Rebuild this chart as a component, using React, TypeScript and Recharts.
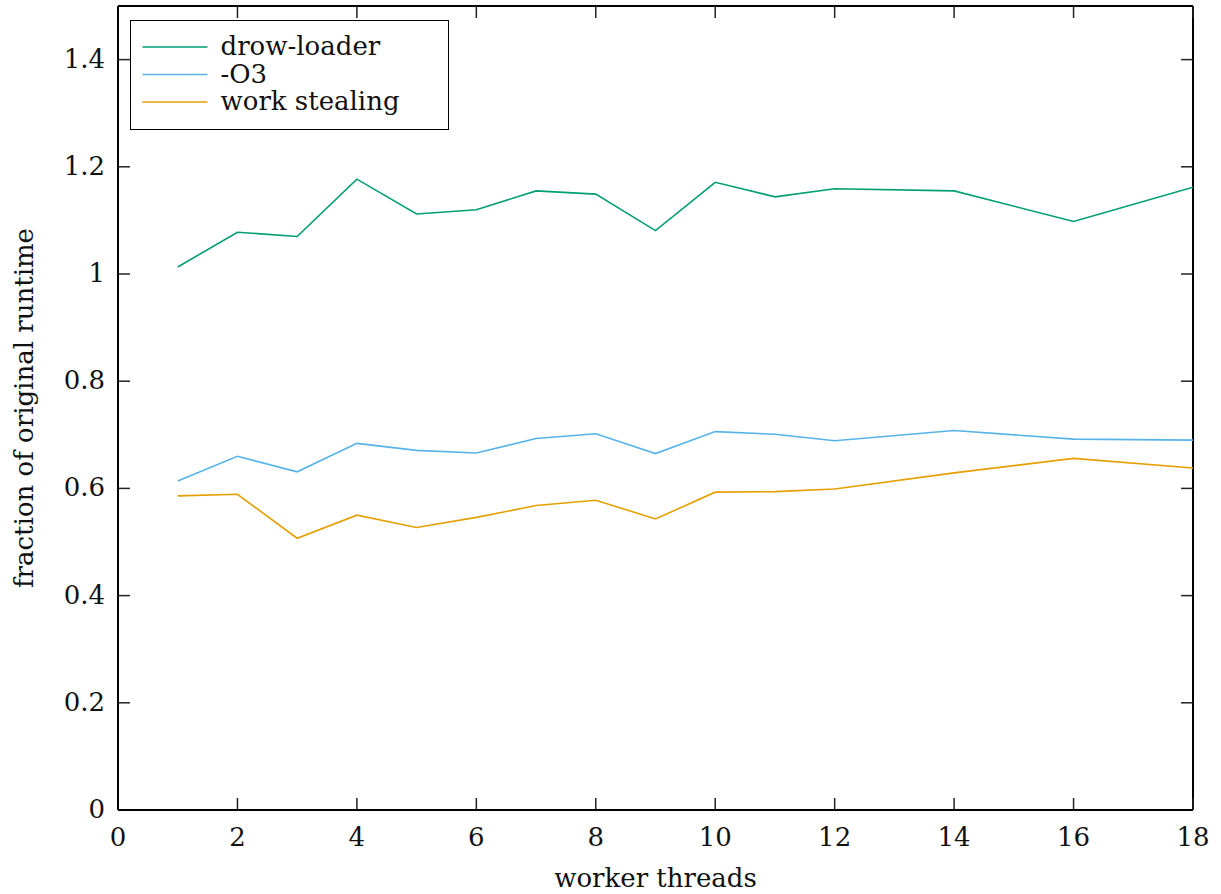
import React from "react";
import { LineChart, Line, XAxis, YAxis, Legend, ReferenceLine } from "recharts";

const threads = [1, 2, 3, 4, 5, 6, 7, 8, 9, 10, 11, 12, 14, 16, 18];
const drowLoader = [1.013, 1.078, 1.07, 1.177, 1.112, 1.12, 1.155, 1.149, 1.081, 1.171, 1.144, 1.159, 1.155, 1.098, 1.162];
const o3 = [0.614, 0.66, 0.631, 0.684, 0.671, 0.666, 0.693, 0.702, 0.665, 0.706, 0.701, 0.689, 0.708, 0.692, 0.69];
const workStealing = [0.586, 0.589, 0.507, 0.55, 0.527, 0.546, 0.568, 0.578, 0.543, 0.593, 0.594, 0.599, 0.629, 0.656, 0.638];

const xTicks = [0, 2, 4, 6, 8, 10, 12, 14, 16, 18];
const yTicks = [0, 0.2, 0.4, 0.6, 0.8, 1, 1.2, 1.4];
const X_MAX = 18;
const Y_MAX = 1.5;

const series = [
  { key: "drow", name: "drow-loader", color: "#009E73" },
  { key: "o3", name: "-O3", color: "#56B4E9" },
  { key: "ws", name: "work stealing", color: "#E69F00" },
];

const data = threads.map((t, i) => ({
  threads: t,
  drow: drowLoader[i],
  o3: o3[i],
  ws: workStealing[i],
}));

const FONT = "'DejaVu Serif', serif";
// inward tick length (~12px) expressed in axis units
const X_TICK = 0.2;
const Y_TICK = 0.0224;

const BottomTick = (p: any) => (
  <text x={p.x} y={p.y + 23} textAnchor="middle" fontFamily={FONT} fontSize={26} fill="#111">
    {p.payload.value}
  </text>
);

const LeftTick = (p: any) => (
  <text x={p.x} y={p.y + 8} textAnchor="end" fontFamily={FONT} fontSize={26} fill="#111">
    {String(p.payload.value)}
  </text>
);

const renderLegend = () => (
  <div
    style={{
      boxSizing: "border-box",
      width: 319,
      height: 110,
      border: "1.5px solid #000",
      background: "#fff",
      fontFamily: FONT,
      fontSize: 26,
      color: "#111",
      position: "relative",
    }}
  >
    <svg width={80} height={105} style={{ position: "absolute", left: 0, top: 0 }}>
      {series.map((s, i) => (
        <line key={s.key} x1={11.5} x2={76.5} y1={26 + i * 27.5} y2={26 + i * 27.5} stroke={s.color} strokeWidth={1.6} />
      ))}
    </svg>
    {series.map((s, i) => (
      <div
        key={s.key}
        style={{ position: "absolute", left: 89.5, top: 11 + i * 27.5, lineHeight: "28px", whiteSpace: "nowrap" }}
      >
        {s.name}
      </div>
    ))}
  </div>
);

export default function App() {
  return (
    <div style={{ position: "absolute", left: 0, top: 0 }}>
      <LineChart width={1221} height={894} data={data} margin={{ top: 6, right: 28, bottom: 24, left: 8 }}>
        <XAxis
          dataKey="threads"
          type="number"
          domain={[0, X_MAX]}
          allowDataOverflow
          ticks={xTicks}
          interval={0}
          height={60}
          tickSize={0}
          tickMargin={13}
          tickLine={false}
          axisLine={{ stroke: "#000", strokeWidth: 2 }}
          tick={BottomTick}
          label={{
            content: (p: any) => (
              <text
                x={p.viewBox.x + p.viewBox.width / 2}
                y={p.viewBox.y + 77}
                textAnchor="middle"
                fontFamily={FONT}
                fontSize={26}
                fill="#111"
              >
                worker threads
              </text>
            ),
          }}
        />
        <YAxis
          type="number"
          domain={[0, Y_MAX]}
          allowDataOverflow
          ticks={yTicks}
          interval={0}
          width={110}
          tickSize={0}
          tickMargin={13}
          tickLine={false}
          axisLine={{ stroke: "#000", strokeWidth: 2 }}
          tick={LeftTick}
          label={{
            content: (p: any) => {
              const cx = p.viewBox.x + 25;
              const cy = p.viewBox.y + p.viewBox.height / 2;
              return (
                <text
                  x={cx}
                  y={cy}
                  transform={`rotate(-90, ${cx}, ${cy})`}
                  textAnchor="middle"
                  fontFamily={FONT}
                  fontSize={26}
                  fill="#111"
                >
                  fraction of original runtime
                </text>
              );
            },
          }}
        />
        {/* frame: top and right edges */}
        <ReferenceLine y={Y_MAX} stroke="#000" strokeWidth={2} />
        <ReferenceLine x={X_MAX} stroke="#000" strokeWidth={2} />
        {/* inward ticks on all four sides */}
        {xTicks.map((t) => (
          <ReferenceLine key={`xb${t}`} segment={[{ x: t, y: 0 }, { x: t, y: Y_TICK }]} stroke="#222" strokeWidth={1.5} />
        ))}
        {xTicks.map((t) => (
          <ReferenceLine key={`xt${t}`} segment={[{ x: t, y: Y_MAX }, { x: t, y: Y_MAX - Y_TICK }]} stroke="#222" strokeWidth={1.5} />
        ))}
        {yTicks.map((v) => (
          <ReferenceLine key={`yl${v}`} segment={[{ x: 0, y: v }, { x: X_TICK, y: v }]} stroke="#222" strokeWidth={1.5} />
        ))}
        {yTicks.map((v) => (
          <ReferenceLine key={`yr${v}`} segment={[{ x: X_MAX, y: v }, { x: X_MAX - X_TICK, y: v }]} stroke="#222" strokeWidth={1.5} />
        ))}
        <Legend
          layout="vertical"
          align="center"
          verticalAlign="middle"
          content={renderLegend}
          wrapperStyle={{ left: 130, top: 20, width: 319, height: 110 }}
        />
        {series.map((s) => (
          <Line
            key={s.key}
            dataKey={s.key}
            name={s.name}
            stroke={s.color}
            strokeWidth={1.6}
            dot={false}
            isAnimationActive={false}
          />
        ))}
      </LineChart>
    </div>
  );
}
